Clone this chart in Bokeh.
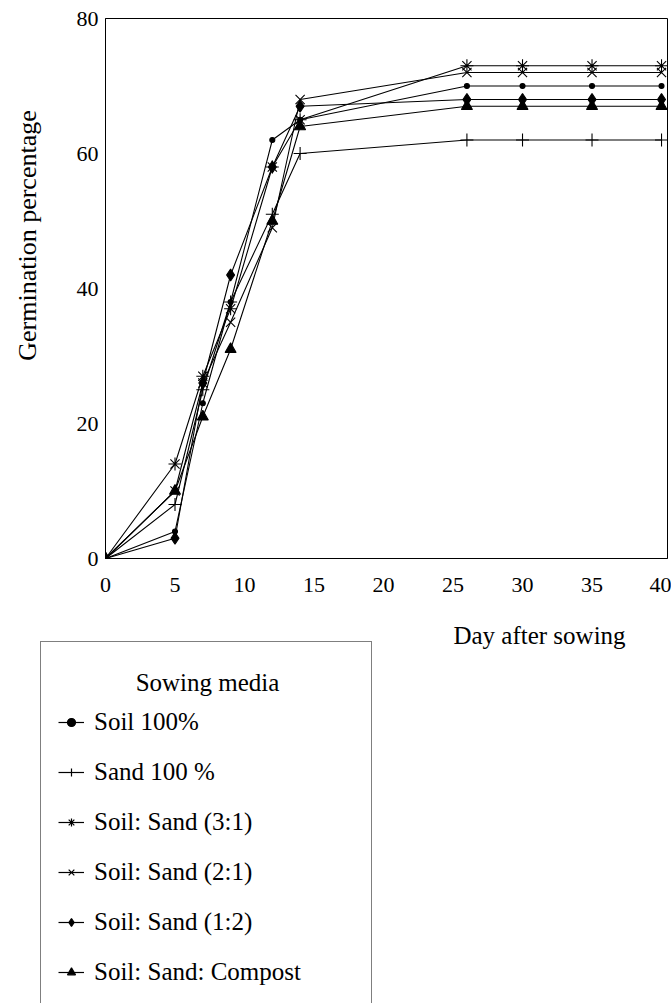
import math
from bokeh.plotting import figure
from bokeh.models import Range1d, FixedTicker, Legend, LegendItem, Label
from bokeh.layouts import column, row
from bokeh.embed import file_html
from bokeh.resources import INLINE

days = [0, 5, 7, 9, 12, 14, 26, 30, 35, 40]
soil_100 = [0, 4, 23, 38, 62, 65, 70, 70, 70, 70]
sand_100 = [0, 8, 25, 38, 51, 60, 62, 62, 62, 62]
soil_sand_3_1 = [0, 14, 27, 37, 58, 65, 73, 73, 73, 73]
soil_sand_2_1 = [0, 10, 26, 35, 49, 68, 72, 72, 72, 72]
soil_sand_1_2 = [0, 3, 26, 42, 58, 67, 68, 68, 68, 68]
soil_sand_compost = [0, 10, 21, 31, 50, 64, 67, 67, 67, 67]

series_names = ["Soil 100%", "Sand 100 %", "Soil: Sand (3:1)",
                "Soil: Sand (2:1)", "Soil: Sand (1:2)", "Soil: Sand: Compost"]
series_values = [soil_100, sand_100, soil_sand_3_1, soil_sand_2_1,
                 soil_sand_1_2, soil_sand_compost]
markers = ["circle", "cross", "asterisk", "x", "diamond", "triangle"]
marker_sizes = [5, 13, 13, 13, 12, 11]

x_ticks = [0, 5, 10, 15, 20, 25, 30, 35, 40]
y_ticks = [0, 20, 40, 60, 80]
x_title = "Day after sowing"
y_title = "Germination percentage"
legend_title = "Sowing media"

FONT = "Liberation Serif"
FS_TICK = "22px"
FS_TXT = "25px"
FS_YT = "26px"

W = 671
WL = 60
H1 = 600
H2 = 403


def bare(fig):
    fig.frame_align = False
    fig.outline_line_color = None
    fig.xgrid.grid_line_color = None
    fig.ygrid.grid_line_color = None
    fig.background_fill_color = "white"
    fig.border_fill_color = "white"


# ---------------- y-title strip ----------------
lf = figure(width=WL, height=H1, x_range=Range1d(0, WL), y_range=Range1d(0, H1),
            output_backend="svg", toolbar_location=None,
            x_axis_location=None, y_axis_location=None, min_border=0)
bare(lf)
lf.add_layout(Label(x=27, y=H1 - 235, x_units="screen", y_units="screen",
                    text=y_title, angle=math.pi / 2, text_align="center",
                    text_baseline="middle", text_font=FONT,
                    text_font_size=FS_YT, text_color="black"))

# ---------------- main chart ----------------
p = figure(width=W - WL, height=H1, x_range=Range1d(0, 40.43), y_range=Range1d(0, 80),
           output_backend="svg", toolbar_location=None,
           min_border_left=105 - WL, min_border_top=18, min_border_right=4,
           min_border_bottom=42)
p.frame_align = False
p.background_fill_color = "white"
p.border_fill_color = "white"
p.outline_line_color = "black"
p.outline_line_width = 1
p.xgrid.grid_line_color = None
p.ygrid.grid_line_color = None

for ax in (p.xaxis[0], p.yaxis[0]):
    ax.axis_line_color = "black"
    ax.axis_line_width = 1
    ax.major_tick_line_color = None
    ax.minor_tick_line_color = None
    ax.major_tick_out = 0
    ax.major_tick_in = 0
    ax.minor_tick_out = 0
    ax.minor_tick_in = 0
    ax.major_label_text_font = FONT
    ax.major_label_text_font_size = FS_TICK
    ax.major_label_text_color = "black"

p.xaxis.ticker = FixedTicker(ticks=x_ticks)
p.yaxis.ticker = FixedTicker(ticks=y_ticks)
p.xaxis.major_label_standoff = 19
p.yaxis.major_label_standoff = 7

for vals, mk, ms in zip(series_values, markers, marker_sizes):
    p.line(days, vals, line_color="black", line_width=1.1)
    p.scatter(days, vals, marker=mk, size=ms, line_color="black",
              fill_color="black", line_width=1.1)

# ---------------- legend panel ----------------
# ranges chosen so the legend's source renderers lie outside the view
q = figure(width=W, height=H2, x_range=Range1d(1000, 1000 + W),
           y_range=Range1d(1000, 1000 + H2),
           output_backend="svg", toolbar_location=None,
           x_axis_location=None, y_axis_location=None,
           min_border=0)
bare(q)

items = []
for name, vals, mk in zip(series_names, series_values, markers):
    rl = q.line(days, vals, line_color="black", line_width=1.2)
    rs = q.scatter(days, vals, marker=mk, line_color="black",
                   fill_color="black", line_width=1.2)
    items.append(LegendItem(label=name, renderers=[rl, rs]))

LH = 374
legend = Legend(items=items, location=(40, H2 - 41 - LH),
                title=" ", title_text_font=FONT, title_text_font_size=FS_TXT,
                title_standoff=10,
                padding=17, spacing=0, label_height=50, label_width=260,
                glyph_width=26, glyph_height=20, label_standoff=10,
                label_text_font=FONT, label_text_font_size=FS_TXT,
                label_text_color="black",
                border_line_color="black", border_line_width=1.5,
                background_fill_alpha=0.0)
q.add_layout(legend)

q.add_layout(Label(x=207, y=H2 - 82, x_units="screen", y_units="screen",
                   text=legend_title, text_align="center",
                   text_baseline="middle", text_font=FONT, text_font_size=FS_TXT,
                   text_color="black"))
q.add_layout(Label(x=539, y=H2 - 35, x_units="screen", y_units="screen",
                   text=x_title, text_align="center",
                   text_baseline="middle", text_font=FONT, text_font_size=FS_TXT,
                   text_color="black"))

layout = column(row(lf, p, spacing=0), q, spacing=0)
open("out.html", "w").write(file_html(layout, INLINE))
